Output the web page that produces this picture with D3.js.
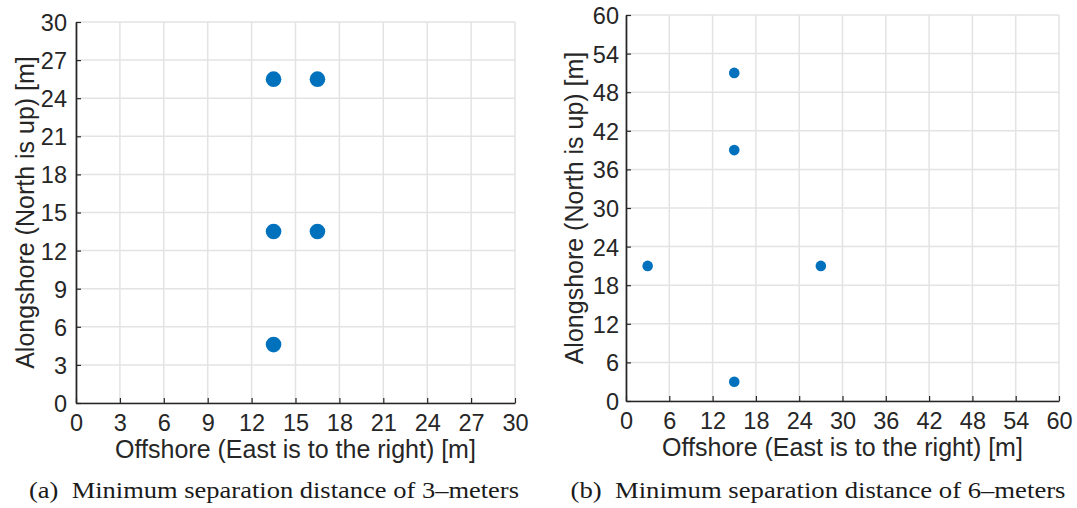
<!DOCTYPE html>
<html>
<head>
<meta charset="utf-8">
<script src="https://cdn.jsdelivr.net/npm/d3@7"></script>
<style>
  body { margin: 0; background: #fff; }
  svg { display: block; }
</style>
</head>
<body>
<svg id="chart" width="1077" height="508"></svg>
<script>
// Sensor layouts for two minimum-separation settings
const layoutA_x = [13.5, 16.5, 13.5, 16.5, 13.5];
const layoutA_y = [25.5, 25.5, 13.5, 13.5, 4.6];
const layoutA_ticks = [0, 3, 6, 9, 12, 15, 18, 21, 24, 27, 30];

const layoutB_x = [15, 15, 3, 27, 15];
const layoutB_y = [51, 39, 21, 21, 3];
const layoutB_ticks = [0, 6, 12, 18, 24, 30, 36, 42, 48, 54, 60];

const xLabel = "Offshore (East is to the right) [m]";
const yLabel = "Alongshore (North is up) [m]";
const captions = [
  "(a)\u2002Minimum separation distance of 3\u2013meters",
  "(b)\u2002Minimum separation distance of 6\u2013meters"
];

const svg = d3.select("#chart");
const sans = "'Liberation Sans', Arial, Helvetica, sans-serif";
const serif = "'Liberation Serif', 'DejaVu Serif', serif";

function panel(opts) {
  const { left, right, top, bottom, xs, ys, ticks, max, r, caption, capX, capW,
          ylabX, xlabDy, yPad } = opts;
  const x = d3.scaleLinear().domain([0, max]).range([left, right]);
  const y = d3.scaleLinear().domain([0, max]).range([bottom, top]);
  const g = svg.append("g");

  // grid
  g.append("g").selectAll("line").data(ticks).join("line")
    .attr("x1", d => x(d)).attr("x2", d => x(d))
    .attr("y1", top).attr("y2", bottom)
    .attr("stroke", "#e3e3e3").attr("stroke-width", 1.5);
  g.append("g").selectAll("line").data(ticks).join("line")
    .attr("x1", left).attr("x2", right)
    .attr("y1", d => y(d)).attr("y2", d => y(d))
    .attr("stroke", "#e3e3e3").attr("stroke-width", 1.5);

  // axes with inward ticks
  const xAxis = d3.axisBottom(x).tickValues(ticks).tickSize(-5).tickPadding(11).tickSizeOuter(0);
  const yAxis = d3.axisLeft(y).tickValues(ticks).tickSize(-5).tickPadding(yPad).tickSizeOuter(0);
  const ax = g.append("g").attr("transform", `translate(0,${bottom})`).call(xAxis);
  const ay = g.append("g").attr("transform", `translate(${left},0)`).call(yAxis);
  [ax, ay].forEach(a => {
    a.attr("font-size", null).attr("font-family", null);
    a.select(".domain").attr("stroke", "#262626").attr("stroke-width", 1.7);
    a.selectAll(".tick line").attr("stroke", "#262626").attr("stroke-width", 1.2);
    a.selectAll(".tick text").attr("fill", "#262626")
      .style("font-family", sans).style("font-size", "23.5px");
  });
  ax.selectAll(".tick text").attr("dy", "0.71em");
  ay.selectAll(".tick text").attr("dy", "0.36em");

  // points
  g.append("g").selectAll("circle").data(xs.map((v, i) => [v, ys[i]])).join("circle")
    .attr("cx", d => x(d[0])).attr("cy", d => y(d[1])).attr("r", r)
    .attr("fill", "#0072BD");

  // axis labels
  g.append("text").attr("x", (left + right) / 2).attr("y", bottom + xlabDy)
    .attr("text-anchor", "middle").attr("fill", "#262626")
    .style("font-family", sans).style("font-size", "25px").text(xLabel);
  g.append("text")
    .attr("transform", `translate(${ylabX},${(top + bottom) / 2}) rotate(-90)`)
    .attr("text-anchor", "middle").attr("fill", "#262626")
    .style("font-family", sans).style("font-size", "25px").text(yLabel);

  // caption
  svg.append("text").attr("x", capX - capW / 2).attr("y", 498)
    .attr("textLength", capW).attr("lengthAdjust", "spacingAndGlyphs")
    .attr("fill", "#1a1a1a")
    .style("font-family", serif).style("font-size", "23.5px").text(caption);
}

panel({ left: 76, right: 515, top: 22, bottom: 403, xs: layoutA_x, ys: layoutA_y,
        ticks: layoutA_ticks, max: 30, r: 7.8, caption: captions[0], capX: 274, capW: 490,
        ylabX: 34, xlabDy: 55, yPad: 9 });
panel({ left: 626, right: 1059, top: 15, bottom: 401, xs: layoutB_x, ys: layoutB_y,
        ticks: layoutB_ticks, max: 60, r: 5.3, caption: captions[1], capX: 818, capW: 495,
        ylabX: 583, xlabDy: 55, yPad: 7 });
</script>
</body>
</html>
